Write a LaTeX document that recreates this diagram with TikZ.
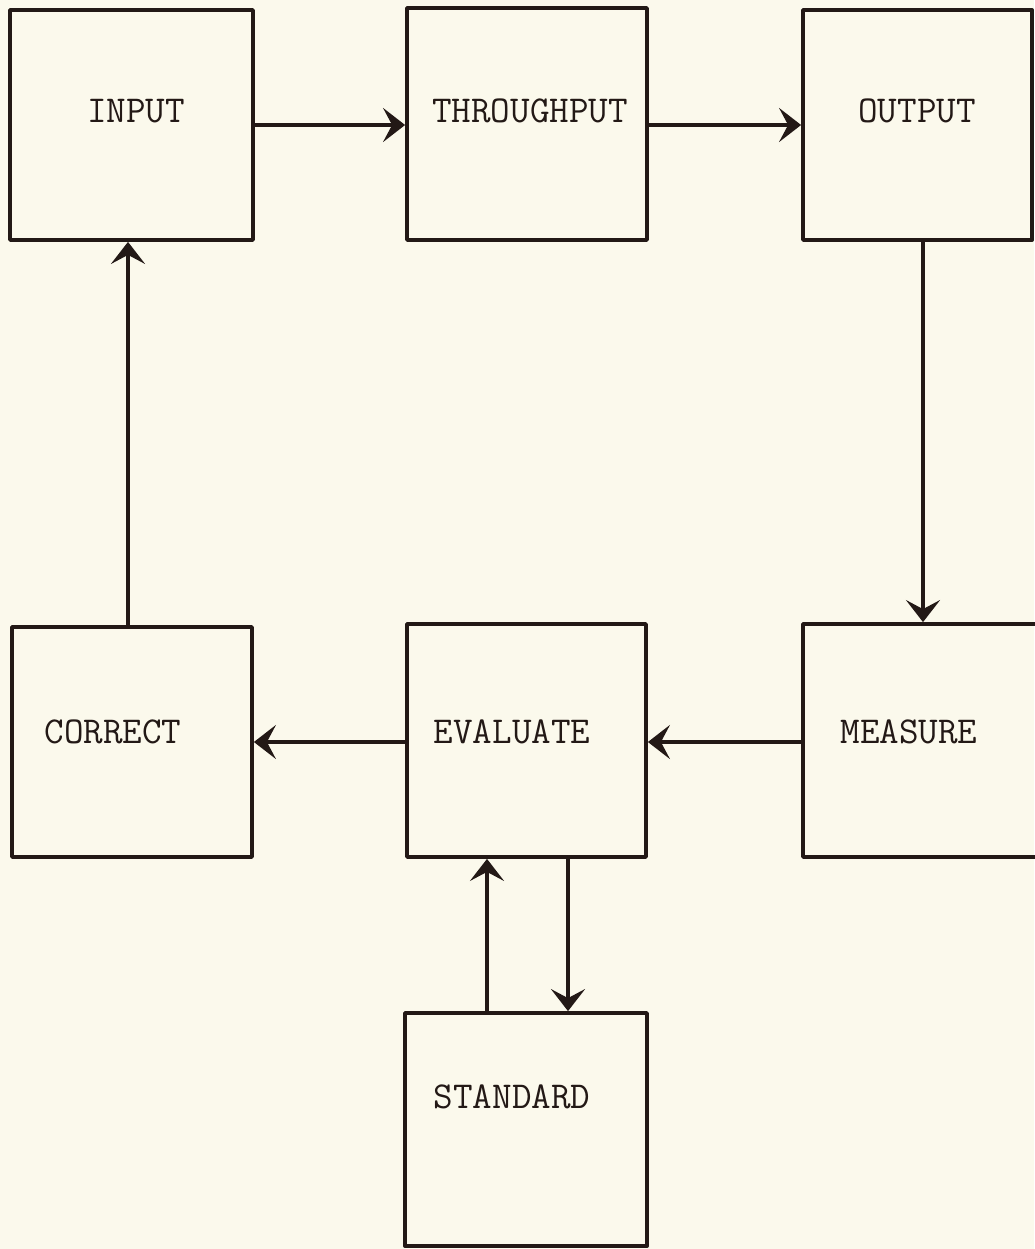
\documentclass[tikz,border=0pt]{standalone}
\usetikzlibrary{arrows.meta,calc}
\definecolor{paper}{RGB}{251,249,236}
\definecolor{ink}{RGB}{35,25,22}
\begin{document}
\begin{tikzpicture}[x=1pt,y=-1pt,
  box/.style={draw=ink,line width=3.8pt,minimum width=#1,minimum height=232pt,inner sep=0pt,line join=round},
  box/.default=240pt,
  lbl/.style={font=\fontsize{38}{42}\selectfont\ttfamily,text=ink,anchor=base,inner sep=0pt},
  flow/.style={draw=ink,line width=3.6pt,line cap=round,-{Stealth[length=22pt,width=34pt,inset=9pt]}}
]
\fill[paper] (0,0) rectangle (1034,1249);
\useasboundingbox (0,0) rectangle (1034,1249);
% boxes
\node[box=243pt,minimum height=230pt] (input) at (131.5,125) {};
\node[box=240pt] (through) at (527,124) {};
\node[box=229pt,minimum height=230pt] (output) at (917.5,125) {};
\node[box=240pt,minimum height=230pt] (correct) at (132,742) {};
\node[box=239pt,minimum height=233pt] (evaluate) at (526.5,740.5) {};
\node[box=242pt,minimum height=233pt] (measure) at (924,740.5) {};
\node[box=242pt,minimum height=233pt] (standard) at (526,1129.5) {};
% labels
\node[lbl] (tinput) at (136,123) {INPUT};
\node[lbl] (tthrough) at (530,123) {THROUGHPUT};
\node[lbl] (toutput) at (917,123) {OUTPUT};
\node[lbl] (tcorrect) at (113,743) {CORRECT};
\node[lbl] (tevaluate) at (512,743) {EVALUATE};
\node[lbl] (tmeasure) at (909,743) {MEASURE};
\node[lbl] (tstandard) at (512,1108) {STANDARD};
% connectors
\draw[flow] (input.east) -- (input.east -| through.west);
\draw[flow] (through.east |- input.east) -- (input.east -| output.west);
\draw[flow] ([xshift=5.5pt]output.south) -- ([xshift=5.5pt]output.south |- measure.north);
\draw[flow] (measure.west |- correct.east) -- (evaluate.east |- correct.east);
\draw[flow] (evaluate.west |- correct.east) -- (correct.east);
\draw[flow] ([xshift=-4pt]correct.north) -- ([xshift=-4pt]correct.north |- input.south);
\draw[flow] ([xshift=-39pt]standard.north) -- ([xshift=-39pt]standard.north |- evaluate.south);
\draw[flow] ([xshift=41.5pt]evaluate.south) -- ([xshift=41.5pt]evaluate.south |- standard.north);
\end{tikzpicture}
\end{document}
